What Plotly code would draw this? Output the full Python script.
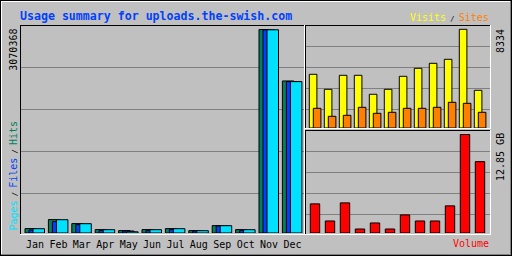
import plotly.graph_objects as go

# ---- data ----
months = ["Jan", "Feb", "Mar", "Apr", "May", "Jun", "Jul", "Aug", "Sep", "Oct", "Nov", "Dec"]
hits = [66400, 202300, 141900, 51300, 36200, 51300, 66400, 36200, 111700, 51300, 3070368, 2294000]
files = [45300, 172100, 126800, 36200, 30200, 36200, 51300, 30200, 105700, 36200, 3065000, 2284000]
pages = [65000, 200800, 140400, 49800, 18100, 49800, 64900, 34700, 110200, 49800, 3066000, 2284000]
visits = [4534, 3268, 4450, 4450, 2846, 3268, 4365, 5041, 5463, 5801, 8334, 3183]
sites = [1663, 988, 1072, 1748, 1241, 1326, 1663, 1663, 1748, 2170, 2086, 1326]
volume_gb = [3.80, 1.57, 3.93, 0.52, 1.31, 0.52, 2.36, 1.57, 1.57, 3.54, 12.85, 9.31]

title_text = "Usage summary for uploads.the-swish.com"
hits_max_label = "3070368"
visits_max_label = "8334"
volume_max_label = "12.85 GB"

# ---- colours ----
GREY = "#c0c0c0"
DKGREY = "#808080"
C_HITS = "#00805c"
C_FILES = "#0040ff"
C_PAGES = "#00e0ff"
C_VISITS = "#ffff00"
C_SITES = "#ff8000"
C_VOL = "#ff0000"
C_TITLE = "#0040ff"
MONO = "DejaVu Sans Mono"

W, H = 512, 256


def px_x(p):
    return p / W


def px_y(p):
    return 1 - p / H


idx = list(range(len(months)))

# ---- geometry (pixels) ----
L_UNIT = 23.4
L_R0 = -5 / L_UNIT
L_X0, L_X1 = 20, 305
L_BASE, L_TOP = 233, 25
sL = max(hits) / 203.5

R_UNIT = 15.0
R_R0 = -4.3 / R_UNIT
R_X0, R_X1 = 305, 491
V_BASE, V_TOP = 128, 25
sV = max(visits) / 98.7
B_BASE, B_TOP = 233, 130
sB = max(volume_gb) / 98.5

fig = go.Figure()
line = dict(color="black", width=1)

bw = 11.5 / L_UNIT
for vals, col, off in [(hits, C_HITS, 0.0), (files, C_FILES, 4 / L_UNIT), (pages, C_PAGES, 8 / L_UNIT)]:
    fig.add_trace(go.Bar(x=idx, y=vals, width=bw, offset=off, marker=dict(color=col, line=line),
                         xaxis="x", yaxis="y", opacity=1, hoverinfo="skip"))

vw = 7.6 / R_UNIT
for vals, col, off in [(visits, C_VISITS, 0.0), (sites, C_SITES, 4 / R_UNIT)]:
    fig.add_trace(go.Bar(x=idx, y=vals, width=vw, offset=off, marker=dict(color=col, line=line),
                         xaxis="x2", yaxis="y2", opacity=1, hoverinfo="skip"))

fig.add_trace(go.Bar(x=idx, y=volume_gb, width=9.4 / R_UNIT, offset=1.0 / R_UNIT,
                     marker=dict(color=C_VOL, line=line), xaxis="x3", yaxis="y3", opacity=1,
                     hoverinfo="skip"))

grid = dict(showgrid=True, gridcolor=DKGREY, gridwidth=1, zeroline=False, showline=False,
            showticklabels=False, ticks="", fixedrange=True)
nogrid = dict(showgrid=False, zeroline=False, showline=False, fixedrange=True)

fig.update_layout(
    width=W, height=H, margin=dict(l=0, r=0, t=0, b=0),
    paper_bgcolor=GREY, plot_bgcolor=GREY, showlegend=False, barmode="overlay",
    xaxis=dict(domain=[px_x(L_X0), px_x(L_X1)],
               range=[L_R0, L_R0 + (L_X1 - L_X0) / L_UNIT],
               tickmode="array", tickvals=[i + 0.43 for i in idx], ticktext=months,
               tickfont=dict(family=MONO, size=10, color="black"),
               ticks="outside", ticklen=2, tickcolor="rgba(0,0,0,0)",
               anchor="y", **nogrid),
    yaxis=dict(domain=[px_y(L_BASE), px_y(L_TOP)], range=[0, (L_BASE - L_TOP) * sL],
               tickmode="array", tickvals=[(L_BASE - p) * sL for p in (193, 151, 109, 67)],
               anchor="x", **grid),
    xaxis2=dict(domain=[px_x(R_X0), px_x(R_X1)],
                range=[R_R0, R_R0 + (R_X1 - R_X0) / R_UNIT],
                showticklabels=False, anchor="y2", **nogrid),
    yaxis2=dict(domain=[px_y(V_BASE), px_y(V_TOP)], range=[0, (V_BASE - V_TOP) * sV],
                tickmode="array", tickvals=[(V_BASE - p) * sV for p in (109, 88, 67, 46)],
                anchor="x2", **grid),
    xaxis3=dict(domain=[px_x(R_X0), px_x(R_X1)],
                range=[R_R0, R_R0 + (R_X1 - R_X0) / R_UNIT],
                showticklabels=False, anchor="y3", **nogrid),
    yaxis3=dict(domain=[px_y(B_BASE), px_y(B_TOP)], range=[0, (B_BASE - B_TOP) * sB],
                tickmode="array", tickvals=[(B_BASE - p) * sB for p in (214, 193, 172, 151)],
                anchor="x3", **grid),
)

# ---- frames ----
shapes = []


def hline(y, x0, x1, col):
    shapes.append(dict(type="line", xref="paper", yref="paper", x0=px_x(x0), x1=px_x(x1),
                       y0=px_y(y), y1=px_y(y), line=dict(color=col, width=1), layer="above"))


def vline(x, y0, y1, col):
    shapes.append(dict(type="line", xref="paper", yref="paper", x0=px_x(x), x1=px_x(x),
                       y0=px_y(y0), y1=px_y(y1), line=dict(color=col, width=1), layer="above"))


# outer border
hline(0.5, 0, 512, "black"); hline(255.5, 0, 512, "black")
vline(0.5, 0, 256, "black"); vline(511.5, 0, 256, "black")
hline(1.5, 1, 511, "white"); vline(1.5, 1, 255, "white")
hline(254.5, 1, 511, DKGREY); vline(510.5, 1, 255, DKGREY)
# left panel
hline(25.5, 20, 305, "black"); vline(20.5, 25, 235, "black")
hline(234.5, 20, 305, "white"); vline(304.5, 25, 235, "white")
# right top panel
hline(25.5, 305, 491, "black"); vline(305.5, 25, 129, "black")
hline(128.5, 305, 491, "white"); vline(490.5, 25, 129, "white")
# right bottom panel
hline(130.5, 305, 491, "black"); vline(305.5, 130, 235, "black")
hline(234.5, 305, 491, "white"); vline(490.5, 130, 235, "white")
fig.update_layout(shapes=shapes)

# ---- texts ----
def sp(txt, col, size=None):
    s = f"color:{col}"
    if size:
        s += f";font-size:{size}px"
    return f"<span style='{s}'>{txt}</span>"


SEP = sp(" / ", "black", 7)
ann = [
    dict(text=title_text, x=px_x(19), y=px_y(15.5), xanchor="left", yanchor="middle",
         font=dict(family=MONO, size=11.6, color=C_TITLE, weight="bold")),
    dict(text=hits_max_label, x=px_x(12.7), y=px_y(28), xanchor="center", yanchor="top",
         textangle=-90, font=dict(family=MONO, size=10, color="black")),
    dict(text=sp("Pages", C_PAGES) + SEP + sp("Files", C_FILES) + SEP + sp("Hits", C_HITS),
         x=px_x(12.5), y=px_y(232), xanchor="center", yanchor="bottom", textangle=-90,
         font=dict(family=MONO, size=10, color="black")),
    dict(text=sp("Visits", C_VISITS) + SEP + sp("Sites", C_SITES),
         x=px_x(490), y=px_y(17), xanchor="right", yanchor="middle",
         font=dict(family=MONO, size=10, color="black")),
    dict(text=visits_max_label, x=px_x(500), y=px_y(28), xanchor="center", yanchor="top",
         textangle=-90, font=dict(family=MONO, size=10, color="black")),
    dict(text=volume_max_label, x=px_x(500), y=px_y(132), xanchor="center", yanchor="top",
         textangle=-90, font=dict(family=MONO, size=10, color="black")),
    dict(text="Volume", x=px_x(490), y=px_y(243), xanchor="right", yanchor="middle",
         font=dict(family=MONO, size=10, color=C_VOL)),
]
for a in ann:
    a.update(xref="paper", yref="paper", showarrow=False, borderpad=0)
fig.update_layout(annotations=ann)

fig.write_html("out.html", config={"displayModeBar": False, "staticPlot": True},
               post_script="document.body.style.margin='0';")
